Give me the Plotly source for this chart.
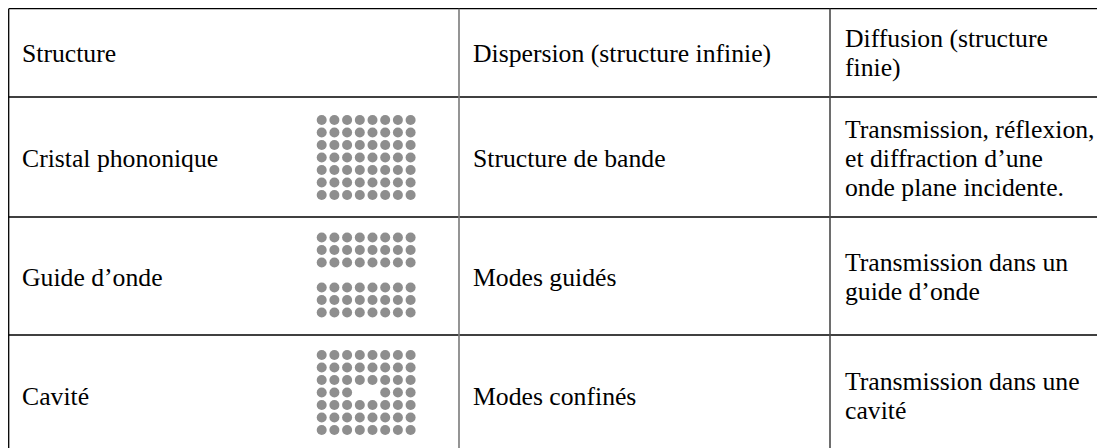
import plotly.graph_objects as go

# ---- table content ----
headers = ["Structure", "Dispersion (structure infinie)", ["Diffusion (structure", "finie)"]]
structures = ["Cristal phononique", "Guide d’onde", "Cavité"]
dispersion = ["Structure de bande", "Modes guidés", "Modes confinés"]
diffusion = [
    ["Transmission, réflexion,", "et diffraction d’une", "onde plane incidente."],
    ["Transmission dans un", "guide d’onde"],
    ["Transmission dans une", "cavité"],
]

# dot-pattern masks (1 = inclusion present), 7 rows x 8 columns
crystal_mask = [[1] * 8 for _ in range(7)]
waveguide_mask = [[1] * 8 for _ in range(3)] + [[0] * 8] + [[1] * 8 for _ in range(3)]
cavity_mask = [[1] * 8 for _ in range(3)] + [[1, 1, 1, 0, 0, 1, 1, 1]] + [[1] * 8 for _ in range(3)]
masks = [crystal_mask, waveguide_mask, cavity_mask]

# ---- layout geometry (pixels, in page coordinates) ----
W, H = 1105, 448
OFF = 8  # page body margin
col_x = [8.7, 459, 830, 1130]
row_y = [8.7, 97, 217, 335, 455]
text_x = [20, 471, 843]
line_gap = 29
font = dict(family="Liberation Serif, Times New Roman, serif", size=25.7, color="#000000")

grid_x0 = [321.7, 321.7, 321.7]
grid_y0 = [120, 237.5, 355]
dx, dy = 12.7, 12.5

fig = go.Figure()

for k, mask in enumerate(masks):
    xs, ys = [], []
    for r, row in enumerate(mask):
        for c, v in enumerate(row):
            if v:
                xs.append(grid_x0[k] + c * dx)
                ys.append(grid_y0[k] + r * dy)
    fig.add_trace(go.Scatter(x=xs, y=ys, mode="markers",
                             marker=dict(size=10, color="#8e8e8e", line=dict(width=0)),
                             hoverinfo="skip", showlegend=False))

shapes = []
for y in row_y:
    shapes.append(dict(type="line", x0=col_x[0], x1=W + 40, y0=y, y1=y,
                       line=dict(color="#000000", width=1.3), layer="above"))
vcolors = ["#000000", "#7a7a7a", "#4a4a4a"]
for i, x in enumerate(col_x[:-1]):
    shapes.append(dict(type="line", x0=x, x1=x, y0=row_y[0], y1=H + 40,
                       line=dict(color=vcolors[i], width=1.3 if i == 0 else 1.6),
                       layer="above"))

annotations = []


def add_lines(x, lines, yc):
    if isinstance(lines, str):
        lines = [lines]
    n = len(lines)
    for i, t in enumerate(lines):
        y = yc + (i - (n - 1) / 2) * line_gap
        annotations.append(dict(x=x, y=y, text=t, showarrow=False, xanchor="left",
                                yanchor="middle", font=font, xref="x", yref="y"))


hdr_c = (7 + row_y[1]) / 2 + 1
for j, h in enumerate(headers):
    add_lines(text_x[j], h, hdr_c)

for i in range(3):
    yc = (row_y[i + 1] + row_y[i + 2]) / 2 + 1
    add_lines(text_x[0], structures[i], yc)
    add_lines(text_x[1], dispersion[i], yc)
    add_lines(text_x[2], diffusion[i], yc)

fig.update_layout(
    width=W, height=H, margin=dict(l=0, r=0, t=0, b=0),
    paper_bgcolor="white", plot_bgcolor="white",
    xaxis=dict(range=[OFF, W + OFF], visible=False, fixedrange=True),
    yaxis=dict(range=[H + OFF, OFF], visible=False, fixedrange=True),
    shapes=shapes, annotations=annotations, showlegend=False,
)

fig.write_html("out.html")
